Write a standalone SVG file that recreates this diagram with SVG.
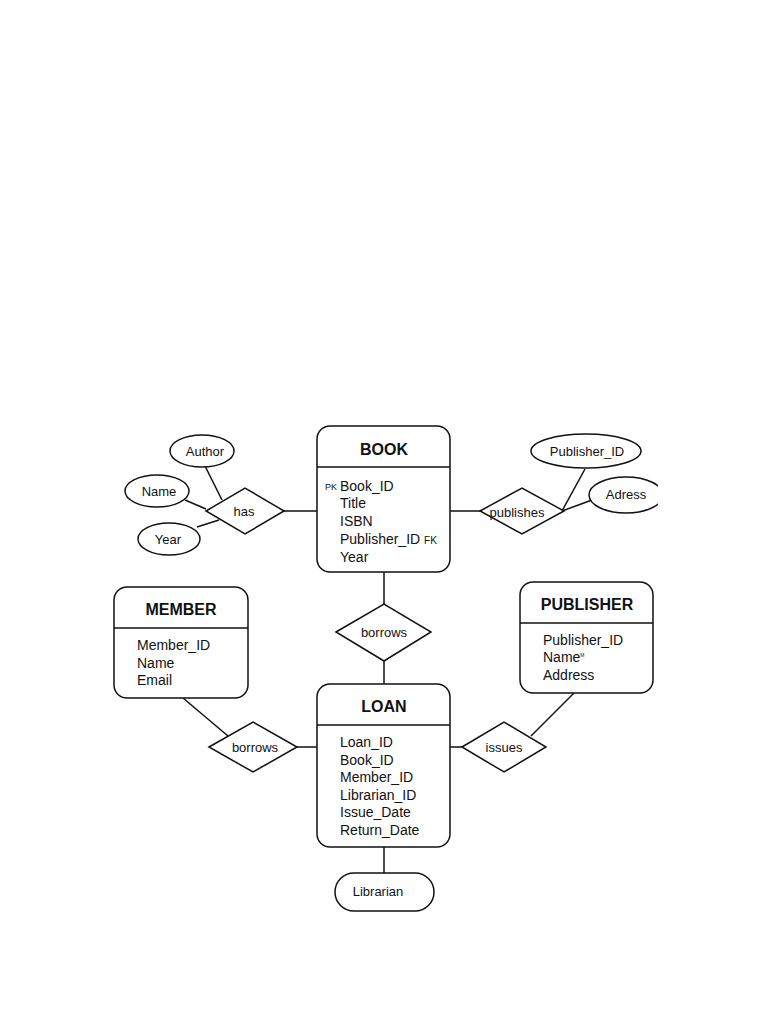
<svg xmlns="http://www.w3.org/2000/svg" width="768" height="1024" viewBox="0 0 768 1024">
<style>
.s{fill:#fff;stroke:#111;stroke-width:1.5}
.l{stroke:#111;stroke-width:1.5;fill:none}
text{font-family:"Liberation Sans",Arial,sans-serif;fill:#111}
.t{font-size:16px;font-weight:bold;text-anchor:middle}
.f{font-size:14px}
.c{font-size:13px;text-anchor:middle}
.k{font-size:9px}
</style>
<defs><clipPath id="cp"><rect x="0" y="0" width="658" height="1024"/></clipPath></defs>
<rect width="768" height="1024" fill="#fff"/>
<g id="connectors">
<line class="l" x1="284" y1="511" x2="317" y2="511"/>
<line class="l" x1="205" y1="466" x2="222" y2="500"/>
<line class="l" x1="185" y1="500" x2="206" y2="509"/>
<line class="l" x1="197" y1="527" x2="219" y2="520"/>
<line class="l" x1="450" y1="511" x2="480" y2="511"/>
<line class="l" x1="585" y1="469" x2="562" y2="511"/>
<line class="l" x1="592" y1="500" x2="562" y2="511"/>
<line class="l" x1="384" y1="572" x2="384" y2="604"/>
<line class="l" x1="384" y1="661" x2="384" y2="684"/>
<line class="l" x1="183" y1="698" x2="228" y2="736"/>
<line class="l" x1="297" y1="747" x2="317" y2="747"/>
<line class="l" x1="450" y1="747" x2="462" y2="747"/>
<line class="l" x1="574" y1="693" x2="531" y2="736"/>
<line class="l" x1="384" y1="847" x2="384" y2="873"/>
</g>
<g id="book">
<rect class="s" x="317" y="426" width="133" height="146" rx="13"/>
<line class="l" x1="317" y1="467" x2="450" y2="467"/>
<text class="t" x="384" y="455">BOOK</text>
<text class="k" x="325" y="490">PK</text>
<text class="f" x="340" y="491">Book_ID</text>
<text class="f" x="340" y="508">Title</text>
<text class="f" x="340" y="526">ISBN</text>
<text class="f" x="340" y="544">Publisher_ID <tspan font-size="10">FK</tspan></text>
<text class="f" x="340" y="562">Year</text>
</g>
<g id="has"><polygon class="s" points="206,511 245,488 284,511 245,534"/><text class="c" x="244" y="516">has</text></g>
<g id="author"><ellipse class="s" cx="202" cy="451" rx="32" ry="16"/><text class="c" x="205" y="456">Author</text></g>
<g id="name"><ellipse class="s" cx="157" cy="491" rx="32" ry="16"/><text class="c" x="159" y="496">Name</text></g>
<g id="year"><ellipse class="s" cx="169" cy="539" rx="31" ry="16"/><text class="c" x="168" y="544">Year</text></g>
<g id="publishes"><polygon class="s" points="480,511 522,488 564,511 522,534"/><text class="c" x="517" y="517">publishes</text></g>
<g id="publisher_id"><ellipse class="s" cx="586" cy="451" rx="55" ry="17"/><text class="c" x="587" y="456">Publisher_ID</text></g>
<g id="adress" clip-path="url(#cp)"><ellipse class="s" cx="626" cy="495" rx="37" ry="18"/><text class="c" x="626" y="499">Adress</text></g>
<g id="borrows_top"><polygon class="s" points="336,632 384,604 431,632 384,661"/><text class="c" x="384" y="637">borrows</text></g>
<g id="member">
<rect class="s" x="114" y="587" width="134" height="111" rx="13"/>
<line class="l" x1="114" y1="628" x2="248" y2="628"/>
<text class="t" x="181" y="615">MEMBER</text>
<text class="f" x="137" y="650">Member_ID</text>
<text class="f" x="137" y="668">Name</text>
<text class="f" x="137" y="685">Email</text>
</g>
<g id="publisher">
<rect class="s" x="520" y="582" width="133" height="111" rx="13"/>
<line class="l" x1="520" y1="623" x2="653" y2="623"/>
<text class="t" x="587" y="610">PUBLISHER</text>
<text class="f" x="543" y="645">Publisher_ID</text>
<text class="f" x="543" y="662">Name<tspan font-size="5" dy="-5">M</tspan></text>
<text class="f" x="543" y="680">Address</text>
</g>
<g id="loan">
<rect class="s" x="317" y="684" width="133" height="163" rx="13"/>
<line class="l" x1="317" y1="725" x2="450" y2="725"/>
<text class="t" x="384" y="712">LOAN</text>
<text class="f" x="340" y="747">Loan_ID</text>
<text class="f" x="340" y="765">Book_ID</text>
<text class="f" x="340" y="782">Member_ID</text>
<text class="f" x="340" y="800">Librarian_ID</text>
<text class="f" x="340" y="817">Issue_Date</text>
<text class="f" x="340" y="835">Return_Date</text>
</g>
<g id="borrows_left"><polygon class="s" points="209,747 253,722 297,747 253,772"/><text class="c" x="255" y="752">borrows</text></g>
<g id="issues"><polygon class="s" points="462,747 504,722 546,747 504,772"/><text class="c" x="504" y="752">issues</text></g>
<g id="librarian"><rect class="s" x="335" y="873" width="99" height="38" rx="19"/><text class="c" x="378" y="896">Librarian</text></g>
</svg>
